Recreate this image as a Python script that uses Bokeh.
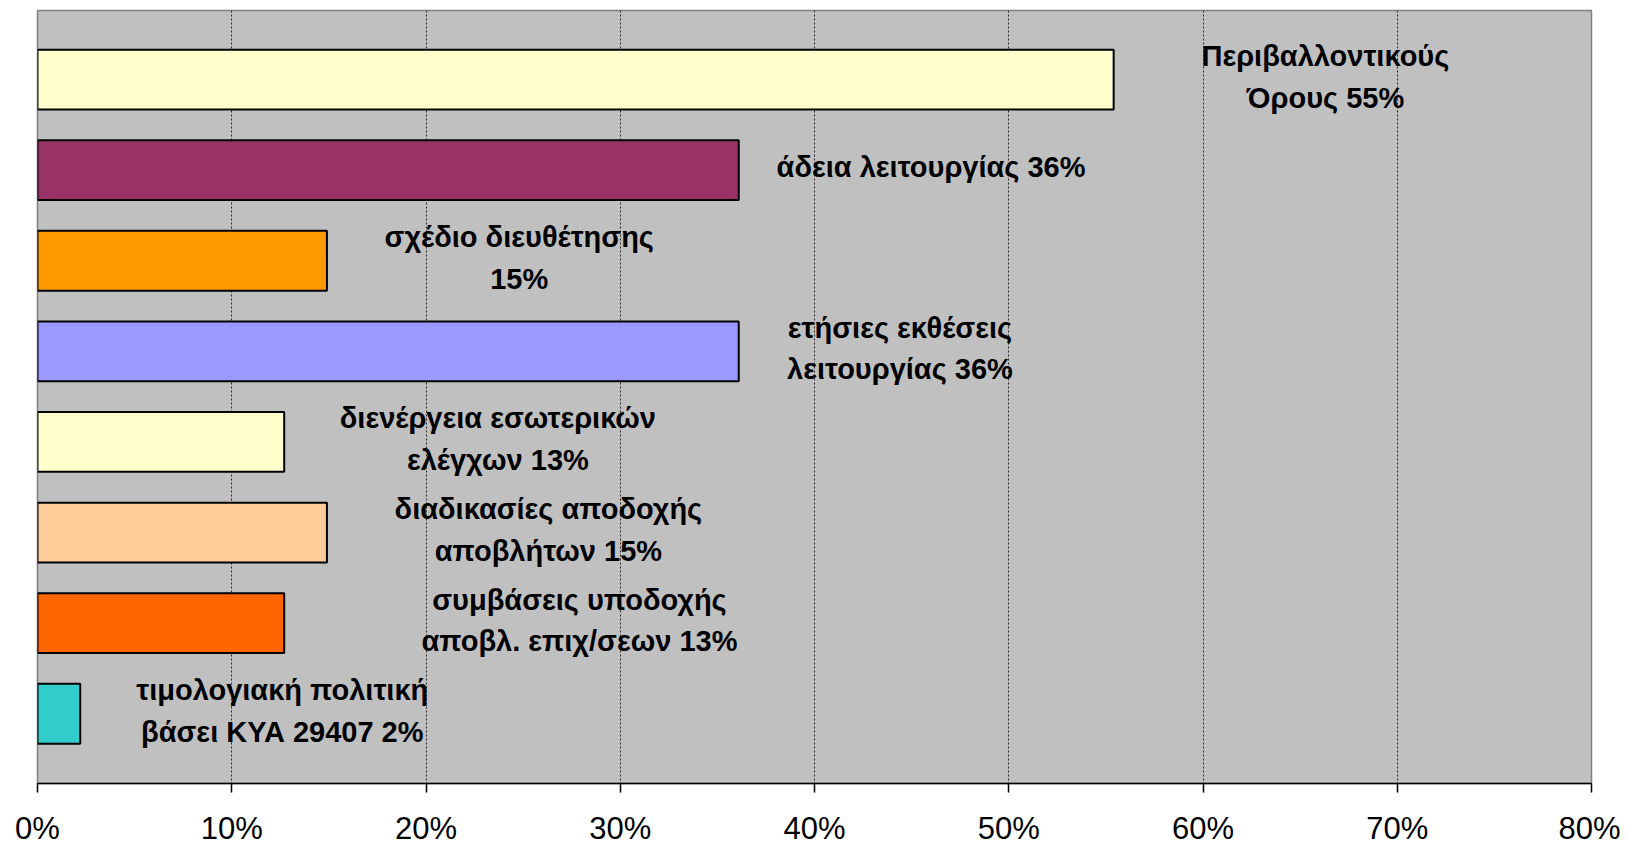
from bokeh.plotting import figure
from bokeh.models import ColumnDataSource, Range1d, FixedTicker, NumeralTickFormatter
from bokeh.core.properties import value
from bokeh.embed import file_html
from bokeh.resources import INLINE

categories = [
    "Περιβαλλοντικούς Όρους",
    "άδεια λειτουργίας",
    "σχέδιο διευθέτησης",
    "ετήσιες εκθέσεις λειτουργίας",
    "διενέργεια εσωτερικών ελέγχων",
    "διαδικασίες αποδοχής αποβλήτων",
    "συμβάσεις υποδοχής αποβλ. επιχ/σεων",
    "τιμολογιακή πολιτική βάσει ΚΥΑ 29407",
]
values = [55.4, 36.1, 14.9, 36.1, 12.7, 14.9, 12.7, 2.2]
colors = ["#FFFFCC", "#993366", "#FF9900", "#9999FF", "#FFFFCC", "#FFCC99", "#FF6600", "#33CCCC"]
labels = [
    "Περιβαλλοντικούς\nΌρους 55%",
    "άδεια λειτουργίας 36%",
    "σχέδιο διευθέτησης\n15%",
    "ετήσιες εκθέσεις\nλειτουργίας 36%",
    "διενέργεια εσωτερικών\nελέγχων 13%",
    "διαδικασίες αποδοχής\nαποβλήτων 15%",
    "συμβάσεις υποδοχής\nαποβλ. επιχ/σεων 13%",
    "τιμολογιακή πολιτική\nβάσει ΚΥΑ 29407 2%",
]
label_x = [66.3, 46.0, 24.8, 44.4, 23.7, 26.3, 27.9, 12.6]
tick_values = [0, 10, 20, 30, 40, 50, 60, 70, 80]

pos = list(range(1, len(categories) + 1))
label_y = [p_ - 0.03 for p_ in pos]

src = ColumnDataSource(dict(cat=categories, val=values, color=colors, y=pos))
lsrc = ColumnDataSource(dict(x=label_x, y=label_y, text=labels))

p = figure(frame_width=1554, frame_height=773, output_backend="svg", toolbar_location=None,
           x_range=Range1d(0, 80), y_range=Range1d(8.77, 0.238),
           min_border_left=37, min_border_right=29, min_border_top=10, min_border_bottom=0)
p.background_fill_color = "#C0C0C0"
p.border_fill_color = "white"
p.outline_line_color = "#808080"
p.outline_line_width = 1.5

p.hbar(y="y", right="val", left=0, height=0.66, source=src, fill_color="color",
       line_color="black", line_width=2)

p.text(x="x", y="y", text="text", source=lsrc, text_align="center", text_baseline="middle",
       text_font=value("Liberation Sans"), text_font_style="bold", text_font_size="29px",
       text_color="black", text_line_height=1.3)

p.yaxis.visible = False
p.ygrid.visible = False
p.xgrid.ticker = FixedTicker(ticks=tick_values)
p.xgrid.grid_line_color = "black"
p.xgrid.grid_line_dash = "2 2"
p.xgrid.grid_line_width = 1
p.xgrid.grid_line_alpha = 0.8

ax = p.xaxis[0]
ax.ticker = FixedTicker(ticks=tick_values)
ax.formatter = NumeralTickFormatter(format="0%")
ax.major_label_overrides = {t: f"{t}%" for t in tick_values}
ax.major_label_text_font = "Liberation Sans"
ax.major_label_text_font_size = "31px"
ax.major_label_text_color = "black"
ax.major_label_standoff = 18
ax.major_tick_out = 9
ax.major_tick_in = 0
ax.minor_tick_line_color = None
ax.axis_line_color = "black"
ax.axis_line_width = 1.5
ax.major_tick_line_color = "black"
ax.major_tick_line_width = 1.5

open("out.html", "w").write(file_html(p, INLINE))
